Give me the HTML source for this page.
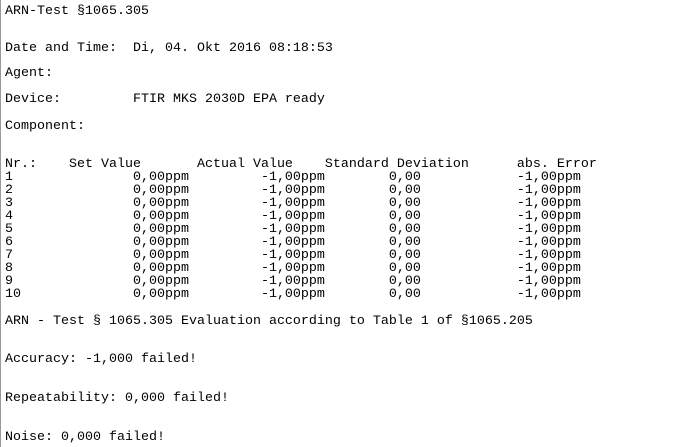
<!DOCTYPE html>
<html><head><meta charset="utf-8"><style>
html,body{margin:0;padding:0;background:#fff;}
#page{position:relative;width:675px;height:447px;overflow:hidden;background:#fff;border-left:1px solid #9a9a9a;box-sizing:border-box;}
.l{position:absolute;left:4px;height:13px;line-height:13px;font-family:"Liberation Mono",monospace;font-size:13.33px;color:#000;white-space:pre;}
</style></head><body>
<div id="page">
<div class="l" style="top:5px">ARN-Test §1065.305</div>
<div class="l" style="top:42px">Date and Time:  Di, 04. Okt 2016 08:18:53</div>
<div class="l" style="top:67px">Agent:</div>
<div class="l" style="top:93px">Device:         FTIR MKS 2030D EPA ready</div>
<div class="l" style="top:120px">Component:</div>
<div class="l" style="top:158px">Nr.:    Set Value       Actual Value    Standard Deviation      abs. Error</div>
<div class="l" style="top:171px">1               0,00ppm         -1,00ppm        0,00            -1,00ppm</div>
<div class="l" style="top:184px">2               0,00ppm         -1,00ppm        0,00            -1,00ppm</div>
<div class="l" style="top:197px">3               0,00ppm         -1,00ppm        0,00            -1,00ppm</div>
<div class="l" style="top:210px">4               0,00ppm         -1,00ppm        0,00            -1,00ppm</div>
<div class="l" style="top:223px">5               0,00ppm         -1,00ppm        0,00            -1,00ppm</div>
<div class="l" style="top:236px">6               0,00ppm         -1,00ppm        0,00            -1,00ppm</div>
<div class="l" style="top:249px">7               0,00ppm         -1,00ppm        0,00            -1,00ppm</div>
<div class="l" style="top:262px">8               0,00ppm         -1,00ppm        0,00            -1,00ppm</div>
<div class="l" style="top:275px">9               0,00ppm         -1,00ppm        0,00            -1,00ppm</div>
<div class="l" style="top:288px">10              0,00ppm         -1,00ppm        0,00            -1,00ppm</div>
<div class="l" style="top:315px">ARN - Test § 1065.305 Evaluation according to Table 1 of §1065.205</div>
<div class="l" style="top:353px">Accuracy: -1,000 failed!</div>
<div class="l" style="top:392px">Repeatability: 0,000 failed!</div>
<div class="l" style="top:431px">Noise: 0,000 failed!</div>
</div>
</body></html>
